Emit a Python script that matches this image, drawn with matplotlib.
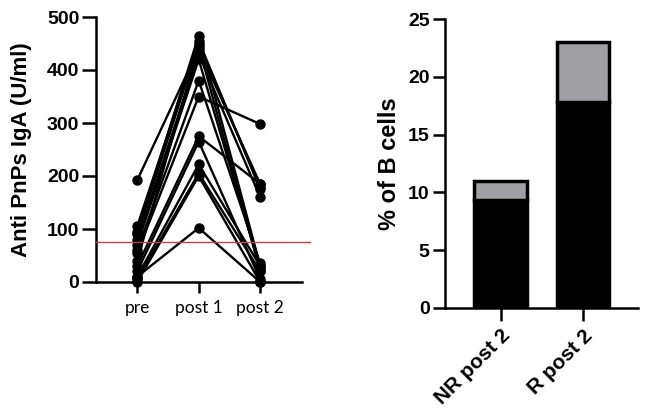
import matplotlib
matplotlib.use("Agg")
import matplotlib.pyplot as plt

# Left panel data: Anti PnPs IgA (U/ml) per subject at three timepoints
timepoints = ["pre", "post 1", "post 2"]
pre_vals   = [192, 105, 95, 90, 80, 70, 60, 55, 40, 30, 20, 10, 5, 0, 10]
post1_vals = [440, 455, 465, 450, 430, 420, 380, 350, 445, 275, 265, 222, 205, 200, 102]
post2_vals = [185, 175, 30, 180, 160, 25, 35, 298, 20, 185, 5, 30, 20, 0, 0]
cutoff = 75

# Right panel data: % of B cells, stacked bars
bar_cats = ["NR post 2", "R post 2"]
black_part = [9.3, 17.8]
gray_part = [1.7, 5.2]

plt.rcParams['font.family'] = ['Liberation Sans', 'DejaVu Sans']

fig = plt.figure(figsize=(6.47, 4.13), dpi=100)

# ---- Left panel ----
ax1 = fig.add_axes([96/647, 1-282/413, (302-96)/647, (282-17)/413])
xs = list(range(len(timepoints)))
for a, b, c in zip(pre_vals, post1_vals, post2_vals):
    ax1.plot(xs, [a, b, c], color='black', lw=1.7, marker='o', ms=6.5,
             clip_on=False, zorder=3)
ax1.axhline(cutoff, color='#b5474a', lw=1.0, xmin=0, xmax=1.04, clip_on=False, zorder=4)
ax1.set_xlim(-0.67, 2.68)
ax1.set_ylim(0, 500)
ax1.set_yticks([0, 100, 200, 300, 400, 500])
ax1.set_xticks(xs)
ax1.set_xticklabels(timepoints, fontsize=12.5, family=['Lato', 'DejaVu Sans'])
for lab in ax1.get_yticklabels():
    lab.set_fontweight('bold')
    lab.set_fontsize(14)
ax1.set_ylabel("Anti PnPs IgA (U/ml)", fontsize=16, fontweight='bold')
ax1.yaxis.set_label_coords(-0.311, 0.5)
for s in ['top', 'right']:
    ax1.spines[s].set_visible(False)
for s in ['left', 'bottom']:
    ax1.spines[s].set_linewidth(1.8)
ax1.tick_params(axis='y', length=10, width=1.8, pad=2)
ax1.tick_params(axis='x', length=8, width=1.8, pad=5)

# ---- Right panel ----
ax2 = fig.add_axes([445/647, 1-308/413, (638-445)/647, (308-19)/413])
bx = list(range(len(bar_cats)))
ax2.bar(bx, black_part, width=0.64, color='black', edgecolor='black', lw=2.5, zorder=2)
ax2.bar(bx, gray_part, bottom=black_part, width=0.64, color='#a0a0a4',
        edgecolor='black', lw=2.5, zorder=2)
ax2.set_xlim(-0.677, 1.668)
ax2.set_ylim(0, 25)
ax2.set_yticks([0, 5, 10, 15, 20, 25])
ax2.set_xticks(bx)
ax2.set_xticklabels(bar_cats, rotation=45, ha='right', rotation_mode='anchor',
                    fontsize=15, fontweight='bold')
for lab in ax2.get_yticklabels():
    lab.set_fontweight('bold')
    lab.set_fontsize(14)
ax2.set_ylabel("% of B cells", fontsize=17, fontweight='bold')
ax2.yaxis.set_label_coords(-0.228, 0.5)
for s in ['top', 'right']:
    ax2.spines[s].set_visible(False)
for s in ['left', 'bottom']:
    ax2.spines[s].set_linewidth(1.8)
ax2.tick_params(axis='y', length=9, width=1.8, pad=2)
ax2.tick_params(axis='x', length=9, width=1.8, pad=4)

fig.savefig("out.png", dpi=100)
